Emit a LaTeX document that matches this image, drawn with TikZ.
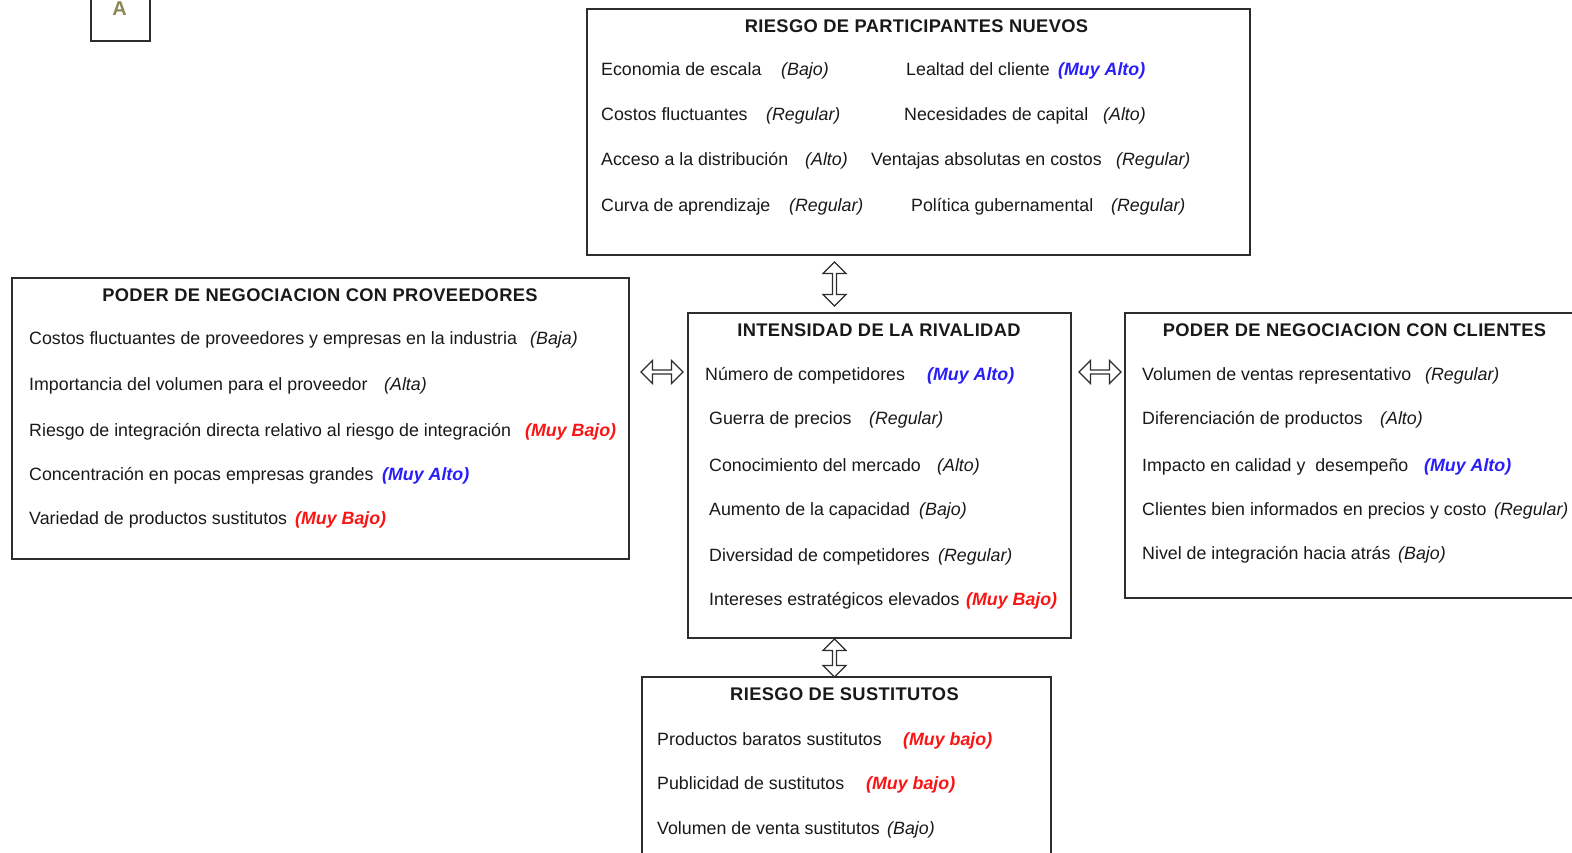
\documentclass[tikz,border=0pt]{standalone}
\usepackage{fontspec}
\setmainfont{Liberation Sans}
\usetikzlibrary{shapes.arrows}

\definecolor{ink}{RGB}{25,25,25}
\definecolor{frame}{RGB}{45,45,45}
\definecolor{hiblue}{RGB}{40,30,250}
\definecolor{hired}{RGB}{250,20,20}
\definecolor{letterA}{RGB}{140,135,85}

\newcommand{\txtsize}{\fontsize{17.8}{21}\selectfont}
\newcommand{\ttlsize}{\fontsize{18.3}{21}\selectfont\addfontfeature{LetterSpace=2}}

\tikzset{
  panel/.style={draw=frame, line width=1.6pt, fill=white, anchor=north west, inner sep=0},
  title/.style={font=\ttlsize\bfseries, text=ink, inner sep=0, anchor=base},
  item/.style={font=\txtsize, text=ink, inner sep=0, anchor=base west},
  val/.style={font=\txtsize\itshape, text=ink, inner sep=0, anchor=base west},
  valblue/.style={val, font=\txtsize\bfseries\itshape, text=hiblue},
  valred/.style={val, font=\txtsize\bfseries\itshape, text=hired},
  biarrow/.style={double arrow, draw=frame, fill=white, line width=1.2pt, inner sep=0,
    minimum width=23pt, minimum height=#1, double arrow head extend=3pt},
  biarrow/.default=42pt,
}

\begin{document}
\begin{tikzpicture}[x=1pt, y=-1pt]
\useasboundingbox (0,0) rectangle (1572,852);

% corner tag
\node[panel, minimum width=59pt, minimum height=50pt] (tag) at (90,-10) {};
\node[font=\fontsize{20}{22}\selectfont\bfseries, text=letterA, inner sep=0, anchor=base] (tagA) at (119.5,15) {A};

% panels
\node[panel, minimum width=663pt, minimum height=246pt] (entrants) at (586,8) {};
\node[panel, minimum width=617pt, minimum height=281pt] (suppliers) at (11,277) {};
\node[panel, minimum width=383pt, minimum height=325pt] (rivalry) at (687,312) {};
\node[panel, minimum width=460pt, minimum height=285pt] (clients) at (1124,312) {};
\node[panel, minimum width=409pt, minimum height=200pt] (substitutes) at (641,676) {};

% arrows between the forces
\node[biarrow=44pt, rotate=90] (arrN) at (834.5,284) {};
\node[biarrow=42pt] (arrW) at (662,372) {};
\node[biarrow=42pt] (arrE) at (1100,372) {};
\node[biarrow=38pt, rotate=90] (arrS) at (834.5,658) {};

% entrants
\node[title] (entT) at (916.5,32) {RIESGO DE PARTICIPANTES NUEVOS};
\node[item] (en1) at (601,75) {Economia de escala};
\node[val] (en1v) at (781,75) {(Bajo)};
\node[item] (en2) at (906,75) {Lealtad del cliente};
\node[valblue] (en2v) at (1058,75) {(Muy Alto)};
\node[item] (en3) at (601,120) {Costos fluctuantes};
\node[val] (en3v) at (766,120) {(Regular)};
\node[item] (en4) at (904,120) {Necesidades de capital};
\node[val] (en4v) at (1103,120) {(Alto)};
\node[item] (en5) at (601,165) {Acceso a la distribución};
\node[val] (en5v) at (805,165) {(Alto)};
\node[item] (en6) at (871,165) {Ventajas absolutas en costos};
\node[val] (en6v) at (1116,165) {(Regular)};
\node[item] (en7) at (601,211) {Curva de aprendizaje};
\node[val] (en7v) at (789,211) {(Regular)};
\node[item] (en8) at (911,211) {Política gubernamental};
\node[val] (en8v) at (1111,211) {(Regular)};

% suppliers
\node[title] (supT) at (320,301) {PODER DE NEGOCIACION CON PROVEEDORES};
\node[item] (su1) at (29,344) {Costos fluctuantes de proveedores y empresas en la industria};
\node[val] (su1v) at (530,344) {(Baja)};
\node[item] (su2) at (29,390) {Importancia del volumen para el proveedor};
\node[val] (su2v) at (384,390) {(Alta)};
\node[item] (su3) at (29,436) {Riesgo de integración directa relativo al riesgo de integración};
\node[valred] (su3v) at (525,436) {(Muy Bajo)};
\node[item] (su4) at (29,480) {Concentración en pocas empresas grandes};
\node[valblue] (su4v) at (382,480) {(Muy Alto)};
\node[item] (su5) at (29,524) {Variedad de productos sustitutos};
\node[valred] (su5v) at (295,524) {(Muy Bajo)};

% rivalry
\node[title] (rivT) at (879,336) {INTENSIDAD DE LA RIVALIDAD};
\node[item] (ri1) at (705,380) {Número de competidores};
\node[valblue] (ri1v) at (927,380) {(Muy Alto)};
\node[item] (ri2) at (709,424) {Guerra de precios};
\node[val] (ri2v) at (869,424) {(Regular)};
\node[item] (ri3) at (709,471) {Conocimiento del mercado};
\node[val] (ri3v) at (937,471) {(Alto)};
\node[item] (ri4) at (709,515) {Aumento de la capacidad};
\node[val] (ri4v) at (919,515) {(Bajo)};
\node[item] (ri5) at (709,561) {Diversidad de competidores};
\node[val] (ri5v) at (938,561) {(Regular)};
\node[item] (ri6) at (709,605) {Intereses estratégicos elevados};
\node[valred] (ri6v) at (966,605) {(Muy Bajo)};

% clients
\node[title] (cliT) at (1354.5,336) {PODER DE NEGOCIACION CON CLIENTES};
\node[item] (cl1) at (1142,380) {Volumen de ventas representativo};
\node[val] (cl1v) at (1425,380) {(Regular)};
\node[item] (cl2) at (1142,424) {Diferenciación de productos};
\node[val] (cl2v) at (1380,424) {(Alto)};
\node[item] (cl3) at (1142,471) {Impacto en calidad y\ \ desempeño};
\node[valblue] (cl3v) at (1424,471) {(Muy Alto)};
\node[item] (cl4) at (1142,515) {Clientes bien informados en precios y costo};
\node[val] (cl4v) at (1494,515) {(Regular)};
\node[item] (cl5) at (1142,559) {Nivel de integración hacia atrás};
\node[val] (cl5v) at (1398,559) {(Bajo)};

% substitutes
\node[title] (subT) at (844.5,700) {RIESGO DE SUSTITUTOS};
\node[item] (sb1) at (657,745) {Productos baratos sustitutos};
\node[valred] (sb1v) at (903,745) {(Muy bajo)};
\node[item] (sb2) at (657,789) {Publicidad de sustitutos};
\node[valred] (sb2v) at (866,789) {(Muy bajo)};
\node[item] (sb3) at (657,834) {Volumen de venta sustitutos};
\node[val] (sb3v) at (887,834) {(Bajo)};

\end{tikzpicture}
\end{document}
